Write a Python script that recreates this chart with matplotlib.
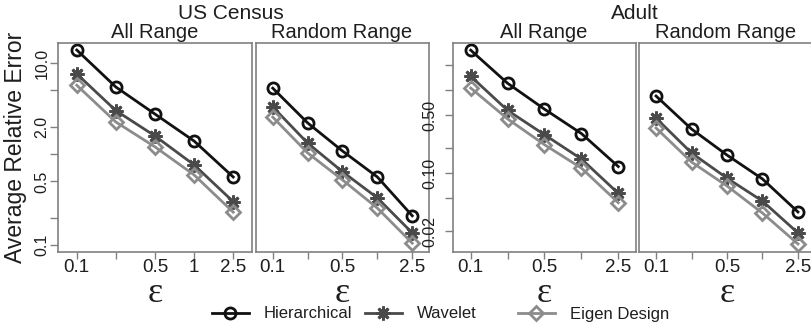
import numpy as np
import matplotlib.pyplot as plt
from matplotlib.lines import Line2D

plt.rcParams['font.family'] = ['Liberation Sans', 'DejaVu Sans']

# epsilon values (plotted at even spacing)
eps = [0.1, 0.25, 0.5, 1, 2.5]
methods = ['Hierarchical', 'Wavelet', 'Eigen Design']

# US Census
census_all = {
    'Hierarchical': [13.9, 5.45, 2.75, 1.39, 0.56],
    'Wavelet': [7.6, 3.0, 1.58, 0.76, 0.30],
    'Eigen Design': [5.7, 2.25, 1.2, 0.59, 0.23],
}
census_rand = {
    'Hierarchical': [5.3, 2.2, 1.08, 0.56, 0.21],
    'Wavelet': [3.3, 1.32, 0.64, 0.33, 0.136],
    'Eigen Design': [2.55, 1.03, 0.52, 0.255, 0.105],
}
# Adult
adult_all = {
    'Hierarchical': [3.03, 1.21, 0.59, 0.30, 0.12],
    'Wavelet': [1.47, 0.57, 0.29, 0.148, 0.057],
    'Eigen Design': [1.06, 0.45, 0.22, 0.115, 0.044],
}
adult_rand = {
    'Hierarchical': [0.85, 0.34, 0.165, 0.085, 0.034],
    'Wavelet': [0.46, 0.175, 0.087, 0.046, 0.019],
    'Eigen Design': [0.35, 0.136, 0.07, 0.033, 0.014],
}

census_ticks = [10, 5, 2, 1, 0.5, 0.2, 0.1]
census_labels = ['10.0', '', '2.0', '', '0.5', '', '0.1']
adult_ticks = [2, 1, 0.5, 0.2, 0.1, 0.05, 0.02]
adult_labels = ['', '', '0.50', '', '0.10', '', '0.02']

styles = {
    'Hierarchical': dict(color='#111111', marker='o', ms=8),
    'Wavelet': dict(color='#4a4a4a', marker=(8, 2, 0), ms=10),
    'Eigen Design': dict(color='#8c8c8c', marker='D', ms=7.5),
}

W, H = 812, 329
fig = plt.figure(figsize=(W / 100, H / 100), dpi=100)

frame = '#808080'
txt = '#1e1e1e'
bot, top = 252, 43

def make_panel(x0, x1, data, ylim, xlabels, yticks=None, ylabels=None, ypad=0):
    ax = fig.add_axes([x0 / W, (H - bot) / H, (x1 - x0) / W, (bot - top) / H])
    xs = np.arange(len(eps))
    for m in methods:
        st = styles[m]
        ax.plot(xs, data[m], '-', color=st['color'], lw=2, marker=st['marker'],
                ms=st['ms'], mfc='none', mec=st['color'], mew=2)
    ax.set_yscale('log')
    ax.set_ylim(*ylim)
    ax.set_xlim(-0.48, 4.48)
    ax.set_xticks(xs)
    ax.set_xticklabels(xlabels, fontsize=13.5, color=txt)
    if yticks is not None:
        ax.set_yticks(yticks)
        ax.set_yticklabels(ylabels, rotation=90, va='center', fontsize=11.5,
                           color=txt)
    else:
        ax.set_yticks([])
    ax.minorticks_off()
    ax.tick_params(axis='x', direction='out', length=5, width=1,
                   color=frame, pad=0)
    ax.tick_params(axis='y', direction='out', length=6, width=1,
                   color=frame, pad=ypad)
    for s in ax.spines.values():
        s.set_color(frame)
        s.set_linewidth(1.2)
    ax.set_xlabel('ε', family=['Liberation Serif', 'DejaVu Serif'],
                  fontsize=26, labelpad=0.5, color=txt)
    return ax

lab_first = ['0.1', '', '0.5', '1', '2.5']
lab_other = ['0.1', '', '0.5', '', '2.5']

make_panel(58, 252, census_all, (0.084, 16.6), lab_first, census_ticks, census_labels, 0)
make_panel(256, 429, census_rand, (0.084, 16.6), lab_other)
make_panel(453, 636, adult_all, (0.0112, 3.7), lab_other, adult_ticks, adult_labels, 5)
make_panel(639, 815, adult_rand, (0.0112, 3.7), lab_other)

# strip titles
fig.text(231 / W, 1 - 19 / H, 'US Census', ha='center', va='baseline', fontsize=15, color=txt)
fig.text(635 / W, 1 - 19 / H, 'Adult', ha='center', va='baseline', fontsize=15, color=txt)
for cx, t in [(155, 'All Range'), (342, 'Random Range'), (544, 'All Range'), (726, 'Random Range')]:
    fig.text(cx / W, 1 - 38 / H, t, ha='center', va='baseline', fontsize=14.5, color=txt)

fig.text(16 / W, 1 - 147 / H, 'Average Relative Error', rotation=90, ha='center',
         va='center', fontsize=16.5, color=txt)

# legend
for lx, m in [(212, 'Hierarchical'), (365, 'Wavelet'), (518, 'Eigen Design')]:
    st = styles[m]
    h = Line2D([], [], color=st['color'], lw=2, marker=st['marker'], ms=st['ms'],
               mfc='none', mec=st['color'], mew=2)
    fig.legend([h], [m], loc='center left', bbox_to_anchor=(lx / W, 15 / H),
               frameon=False, fontsize=12, handlelength=2.2, handletextpad=0.9,
               borderpad=0, borderaxespad=0, labelcolor=txt)

fig.savefig('out.png', dpi=100)
